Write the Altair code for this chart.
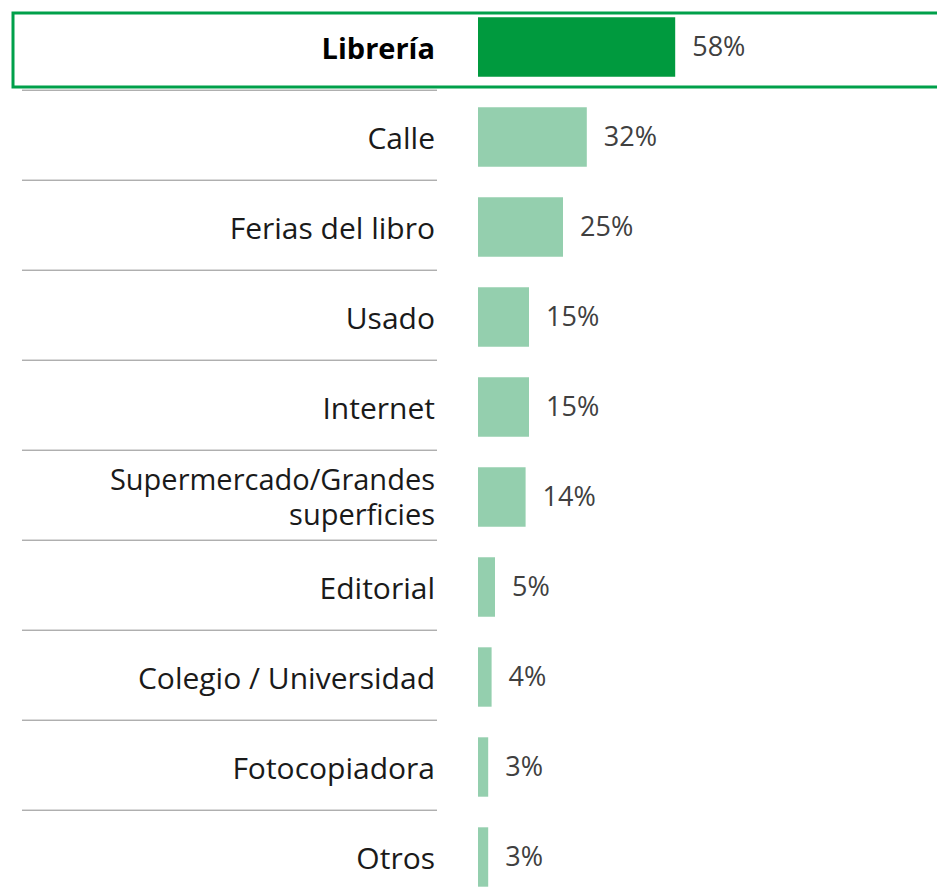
import altair as alt
import pandas as pd

categories = ["Librería", "Calle", "Ferias del libro", "Usado", "Internet",
              "Supermercado/Grandes\nsuperficies", "Editorial",
              "Colegio / Universidad", "Fotocopiadora", "Otros"]
values = [58, 32, 25, 15, 15, 14, 5, 4, 3, 3]
value_labels = ["58%", "32%", "25%", "15%", "15%", "14%", "5%", "4%", "3%", "3%"]

df = pd.DataFrame({
    "row": list(range(len(categories))),
    "cat": categories,
    "val": values,
    "lab": value_labels,
})

W, H = 929, 879
PX_PER_UNIT = 3.4
x0 = -470 / PX_PER_UNIT
xdom = [x0, x0 + W / PX_PER_UNIT]
y0 = -39 / 90
ydom = [y0, y0 + H / 90]

xs = alt.Scale(domain=xdom, nice=False, zero=False)
ys = alt.Scale(domain=ydom, nice=False, zero=False, reverse=True)

DARK = "#009A3E"
LIGHT = "#94CFAE"
FONT = "Open Sans"
FS = 30

base = alt.Chart(df)

bars = base.transform_calculate(
    y0="datum.row - 0.33", y1="datum.row + 0.33", zero="0"
).mark_bar(clip=True).encode(
    x=alt.X("zero:Q", scale=xs, axis=None),
    x2="val:Q",
    y=alt.Y("y0:Q", scale=ys, axis=None),
    y2="y1:Q",
    color=alt.condition("datum.row == 0", alt.value(DARK), alt.value(LIGHT)),
)

vals = base.mark_text(align="left", baseline="middle", dx=17, dy=1, font=FONT,
                      fontSize=27, color="#404040").encode(
    x=alt.X("val:Q", scale=xs, axis=None),
    y=alt.Y("row:Q", scale=ys, axis=None),
    text="lab:N",
)

cats = base.transform_filter("datum.row > 0 && datum.row != 5").mark_text(
    align="right", baseline="middle", font=FONT, fontSize=FS,
    color="#1a1a1a", dy=3
).encode(
    x=alt.value(427),
    y=alt.Y("row:Q", scale=ys, axis=None),
    text="cat:N",
)

cats_multi = base.transform_filter("datum.row == 5").mark_text(
    align="right", baseline="middle", font=FONT, fontSize=FS - 1,
    color="#1a1a1a", lineBreak="\n", lineHeight=35, dy=-16
).encode(
    x=alt.value(427),
    y=alt.Y("row:Q", scale=ys, axis=None),
    text="cat:N",
)

cat_bold = base.transform_filter("datum.row == 0").mark_text(
    align="right", baseline="middle", font=FONT, fontSize=FS - 1,
    fontWeight="bold", color="#000000", dy=3
).encode(
    x=alt.value(427),
    y=alt.Y("row:Q", scale=ys, axis=None),
    text="cat:N",
)

seps = base.transform_filter("datum.row < 9").transform_calculate(
    sy="datum.row + 0.48"
).mark_rule(color="#8c8c8c", strokeWidth=1).encode(
    x=alt.value(14),
    x2=alt.value(429),
    y=alt.Y("sy:Q", scale=ys, axis=None),
)

border = base.transform_filter("datum.row == 0").transform_calculate(
    by0="datum.row - 0.378", by1="datum.row + 0.444"
).mark_rect(filled=False, stroke="#00A04A", strokeWidth=3, clip=False).encode(
    x=alt.value(5),
    x2=alt.value(945),
    y=alt.Y("by0:Q", scale=ys, axis=None),
    y2="by1:Q",
)

chart = alt.layer(seps, border, bars, vals, cats, cats_multi, cat_bold).properties(
    width=W, height=H, padding=0, autosize="none"
).configure_view(stroke=None)

chart.save("out.html", embed_options={"renderer": "svg", "actions": False})
